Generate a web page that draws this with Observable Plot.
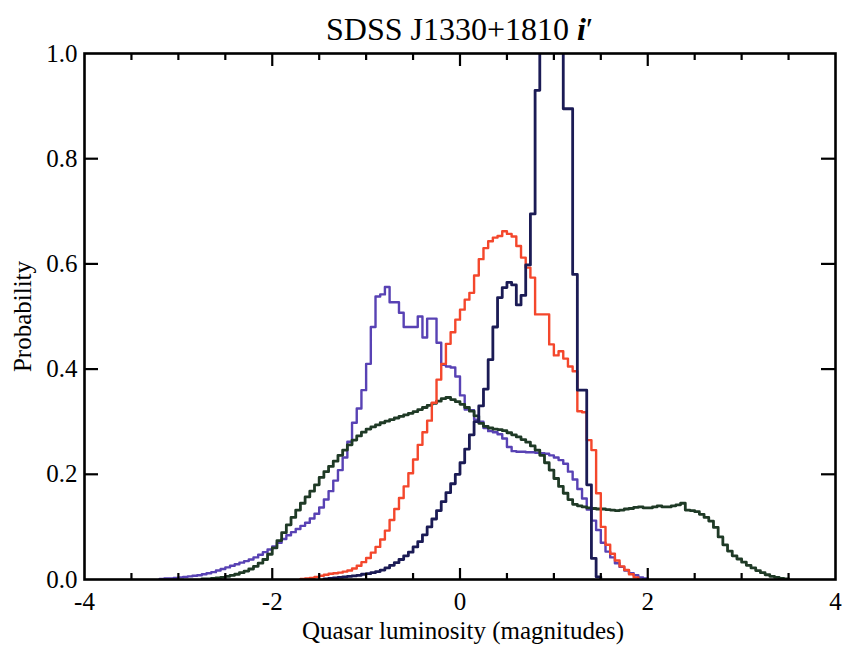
<!DOCTYPE html>
<html>
<head>
<meta charset="utf-8">
<script src="https://cdn.jsdelivr.net/npm/d3@7"></script>
<script src="https://cdn.jsdelivr.net/npm/@observablehq/plot@0.6"></script>
<style>
  body { margin: 0; background: #fff; }
  #title {
    width: 851px; height: 38px; box-sizing: border-box;
    padding-top: 9px; padding-left: 84px; padding-right: 16px;
    text-align: center; font-family: "Liberation Serif", "Times New Roman", serif;
    font-size: 32px; line-height: 40px; color: #000; white-space: nowrap; overflow: visible;
  }
  #chart svg { display: block; }
</style>
</head>
<body>
<div id="title">SDSS J1330+1810 <b><i>i</i></b>′</div>
<div id="chart"></div>
<script>
// ---- data (histograms, bin width 0.05 mag) ----
const binWidth = 0.05;

const purpleStart = -3.20;
const purpleValues = [
  0.001,0.002,0.002,0.003,0.004,0.005,0.006,0.007,0.008,0.010,
  0.012,0.014,0.017,0.020,0.023,0.026,0.029,0.032,0.035,0.038,
  0.042,0.047,0.052,0.057,0.063,0.070,0.077,0.084,0.090,0.096,
  0.102,0.108,0.116,0.125,0.137,0.152,0.168,0.188,0.208,0.232,
  0.262,0.298,0.325,0.360,0.410,0.480,0.538,0.542,0.556,0.527,
  0.527,0.507,0.480,0.480,0.480,0.500,0.460,0.496,0.496,0.450,
  0.408,0.405,0.403,0.386,0.350,0.323,0.322,0.304,0.300,0.288,
  0.282,0.280,0.276,0.268,0.252,0.244,0.243,0.243,0.242,0.242,
  0.241,0.240,0.239,0.236,0.232,0.227,0.220,0.205,0.190,0.172,
  0.154,0.133,0.112,0.094,0.070,0.053,0.042,0.031,0.024,0.017,
  0.012,0.008,0.004,0.002
];

const greenStart = -2.75;
const greenValues = [
  0.001,0.001,0.002,0.003,0.004,0.006,0.008,0.010,0.013,0.016,
  0.020,0.025,0.031,0.038,0.048,0.060,0.074,0.089,0.104,0.118,
  0.132,0.145,0.157,0.168,0.180,0.194,0.205,0.215,0.225,0.236,
  0.246,0.256,0.265,0.273,0.280,0.286,0.290,0.294,0.298,0.301,
  0.304,0.307,0.310,0.313,0.316,0.319,0.323,0.327,0.331,0.335,
  0.339,0.344,0.346,0.342,0.338,0.333,0.327,0.320,0.311,0.297,
  0.291,0.288,0.286,0.285,0.283,0.279,0.275,0.271,0.266,0.261,
  0.254,0.246,0.236,0.222,0.208,0.192,0.177,0.164,0.152,0.143,
  0.140,0.138,0.136,0.135,0.134,0.134,0.133,0.132,0.131,0.132,
  0.134,0.135,0.137,0.138,0.136,0.136,0.138,0.140,0.138,0.138,
  0.140,0.142,0.145,0.132,0.131,0.129,0.124,0.118,0.111,0.099,
  0.081,0.066,0.054,0.045,0.039,0.033,0.027,0.022,0.017,0.013,
  0.009,0.006,0.004,0.002,0.001
];

const redStart = -1.70;
const redValues = [
  0.001,0.002,0.003,0.005,0.007,0.009,0.011,0.012,0.013,0.015,
  0.017,0.021,0.026,0.033,0.041,0.051,0.062,0.076,0.093,0.113,
  0.134,0.155,0.177,0.202,0.228,0.256,0.280,0.302,0.336,0.380,
  0.410,0.448,0.470,0.494,0.513,0.532,0.545,0.578,0.609,0.630,
  0.643,0.650,0.653,0.662,0.657,0.652,0.634,0.612,0.593,0.574,
  0.504,0.504,0.504,0.447,0.426,0.434,0.420,0.405,0.396,0.320,
  0.318,0.265,0.246,0.164,0.100,0.066,0.049,0.036,0.025,0.018,
  0.010,0.004
];

const navyStart = -1.45;
const navyValues = [
  0.001,0.002,0.003,0.004,0.005,0.006,0.007,0.008,0.010,0.011,
  0.013,0.015,0.018,0.022,0.027,0.032,0.038,0.045,0.052,0.062,
  0.072,0.085,0.100,0.115,0.131,0.148,0.165,0.182,0.200,0.222,
  0.248,0.275,0.300,0.330,0.362,0.418,0.480,0.536,0.555,0.565,
  0.560,0.522,0.540,0.598,0.695,0.930,1.150,1.320,1.400,1.330,
  1.150,0.895,0.895,0.580,0.360,0.360,0.180,0.040,0.005
];

const xLabelTicks = [-4, -2, 0, 2, 4];
const xMajorTicks = [-2, 0, 2];
const xMinorTicks = [-3.5, -3, -2.5, -1.5, -1, -0.5, 0.5, 1, 1.5, 2.5, 3, 3.5];
const yLabelTicks = [0, 0.2, 0.4, 0.6, 0.8, 1.0];
const yInnerTicks = [0.2, 0.4, 0.6, 0.8];
const xAxisLabel = ["Quasar luminosity (magnitudes)"];
const yAxisLabel = ["Probability"];

// ---- build step-histogram tables ----
function histPoints(start, values) {
  const pts = [{x: start, y: 0}];
  values.forEach((v, i) => pts.push({x: start + i * binWidth, y: v}));
  pts.push({x: start + values.length * binWidth, y: 0});
  return pts;
}

const W = 851, H = 608, mL = 84, mR = 16, mT = 15, mB = 67;
const xDomain = [-4, 4], yDomain = [0, 1.0];
const frameW = W - mL - mR, frameH = H - mT - mB;
const yLen = px => px / frameH * (yDomain[1] - yDomain[0]);
const xLen = px => px / frameW * (xDomain[1] - xDomain[0]);

const tickStyle = {stroke: "black", strokeWidth: 2.2};

const chart = Plot.plot({
  width: W, height: H,
  marginLeft: mL, marginRight: mR, marginTop: mT, marginBottom: mB,
  style: {fontFamily: "'Liberation Serif', 'Times New Roman', serif", fontSize: "25px", background: "white", color: "black", overflow: "visible"},
  x: {domain: xDomain, ticks: xLabelTicks, tickFormat: d => String(d), tickSize: 0, tickPadding: 13, label: null},
  y: {domain: yDomain, ticks: yLabelTicks, tickFormat: d3.format(".1f"), tickSize: 0, tickPadding: 7, label: null},
  marks: [
    Plot.line(histPoints(purpleStart, purpleValues), {x: "x", y: "y", curve: "step-after", stroke: "#5842b4", strokeWidth: 2.4, clip: true}),
    Plot.line(histPoints(greenStart, greenValues), {x: "x", y: "y", curve: "step-after", stroke: "#1f3a26", strokeWidth: 2.8, clip: true}),
    Plot.line(histPoints(redStart, redValues), {x: "x", y: "y", curve: "step-after", stroke: "#f4472c", strokeWidth: 2.4, clip: true}),
    Plot.line(histPoints(navyStart, navyValues), {x: "x", y: "y", curve: "step-after", stroke: "#1b1b55", strokeWidth: 2.8, clip: true}),
    // inward ticks: bottom & top
    Plot.ruleX(xMajorTicks, {x: d => d, y1: yDomain[0], y2: yDomain[0] + yLen(11), ...tickStyle}),
    Plot.ruleX(xMinorTicks, {x: d => d, y1: yDomain[0], y2: yDomain[0] + yLen(6), ...tickStyle}),
    Plot.ruleX(xMajorTicks, {x: d => d, y1: yDomain[1], y2: yDomain[1] - yLen(13), ...tickStyle}),
    Plot.ruleX(xMinorTicks, {x: d => d, y1: yDomain[1], y2: yDomain[1] - yLen(7), ...tickStyle}),
    // inward ticks: left & right
    Plot.ruleY(yInnerTicks, {y: d => d, x1: xDomain[0], x2: xDomain[0] + xLen(14), ...tickStyle}),
    Plot.ruleY(yInnerTicks, {y: d => d, x1: xDomain[1], x2: xDomain[1] - xLen(14), ...tickStyle}),
    Plot.frame({stroke: "black", strokeWidth: 2.6}),
    // axis titles
    Plot.text(xAxisLabel, {text: d => d, frameAnchor: "bottom", lineAnchor: "middle", textAnchor: "middle", dx: 3, dy: 51, fontSize: 25, fill: "black"}),
    Plot.text(yAxisLabel, {text: d => d, frameAnchor: "left", lineAnchor: "middle", textAnchor: "middle", dx: -62, rotate: -90, fontSize: 25, fill: "black"})
  ]
});
document.getElementById("chart").appendChild(chart);
</script>
</body>
</html>
